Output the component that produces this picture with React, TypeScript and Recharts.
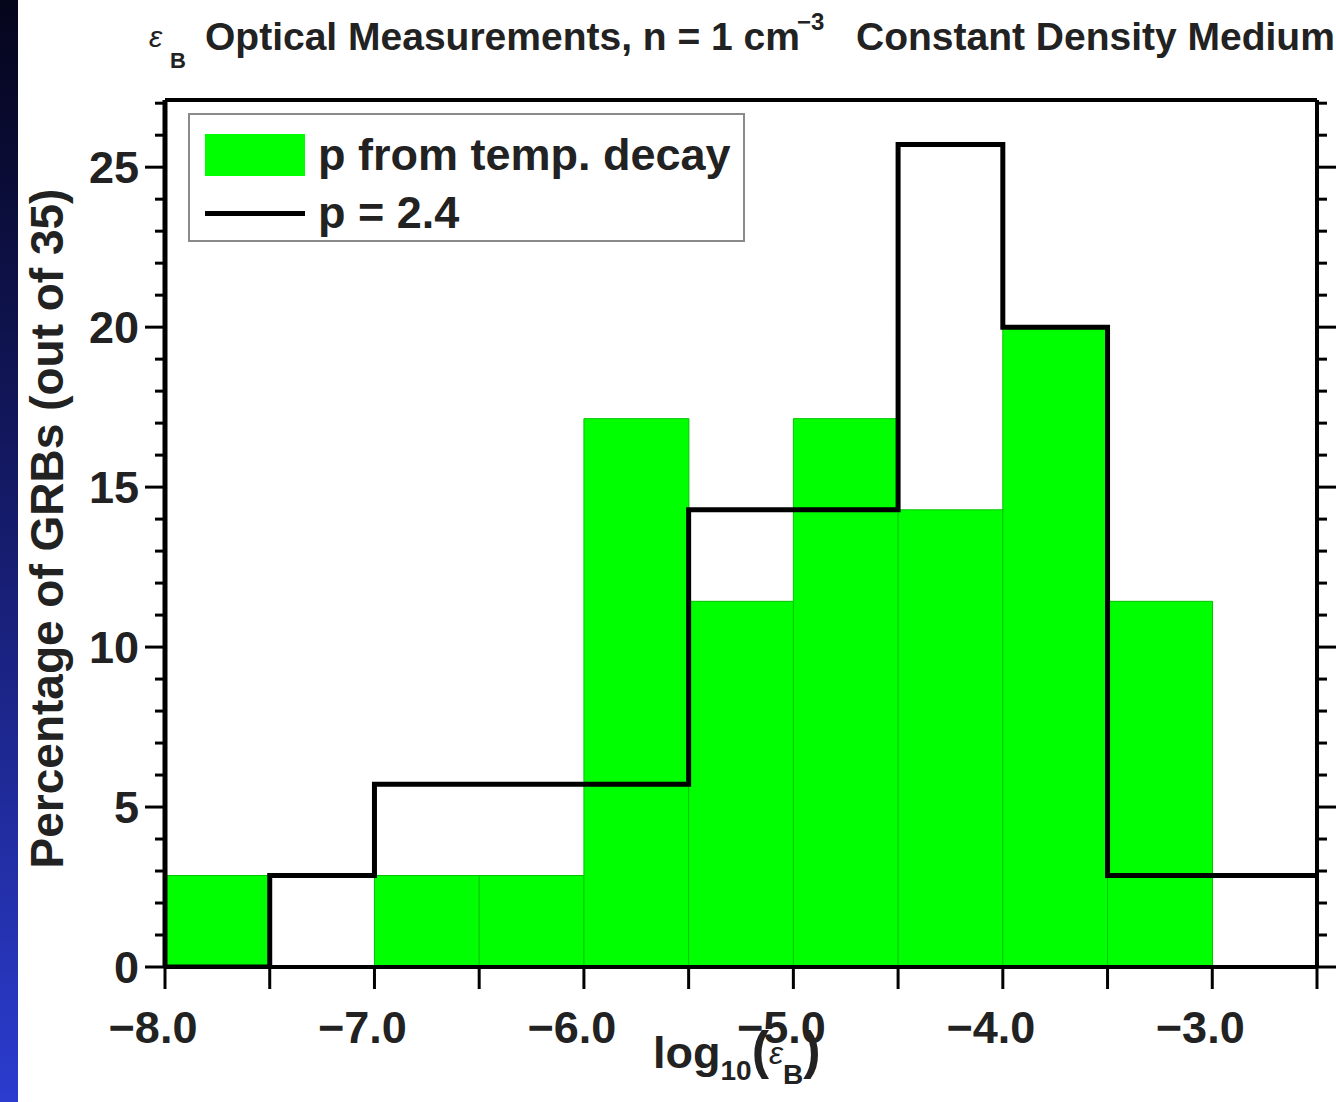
import React from "react";
import { ComposedChart, Bar, Line, XAxis, YAxis, Legend } from "recharts";

// histogram bins of log10(eps_B), width 0.5
const BIN_EDGES = [-8.0, -7.5, -7.0, -6.5, -6.0, -5.5, -5.0, -4.5, -4.0, -3.5, -3.0, -2.5];
// percentage of GRBs (out of 35) per bin
const TEMP_DECAY_PCT = [2.86, 0, 2.86, 2.86, 17.14, 11.43, 17.14, 14.29, 20.0, 11.43, 0];
const P24_PCT = [0, 2.86, 5.71, 5.71, 5.71, 14.29, 14.29, 25.71, 20.0, 2.86, 2.86];

const X_TICKS = [-8.0, -7.5, -7.0, -6.5, -6.0, -5.5, -5.0, -4.5, -4.0, -3.5, -3.0, -2.5];
const Y_TICKS = [0, 1, 2, 3, 4, 5, 6, 7, 8, 9, 10, 11, 12, 13, 14, 15, 16, 17, 18, 19, 20, 21, 22, 23, 24, 25, 26, 27];
const Y_MAJOR = [0, 5, 10, 15, 20, 25];

const LEGEND_ITEMS = [
  { key: "decay", label: "p from temp. decay", kind: "rect" },
  { key: "p24", label: "p = 2.4", kind: "line" },
];

const GREEN = "#00ff00";
const FONT = "'Liberation Sans', Arial, Helvetica, sans-serif";

const binRows = TEMP_DECAY_PCT.map((v, i) => ({ bin: String(BIN_EDGES[i]), green: v }));
// step line needs the closing edge, so repeat the last value there
const stepRows = BIN_EDGES.map((x, i) => ({ x, black: P24_PCT[Math.min(i, P24_PCT.length - 1)] }));

const fmtX = (v: number) => (v < 0 ? "\u2212" : "") + Math.abs(v).toFixed(1);

function XTick({ x, y, payload, side }: any) {
  const v = payload.value as number;
  const dir = side === "top" ? -1 : 1;
  return (
    <g>
      <line x1={x} y1={y} x2={x} y2={y + dir * 22} stroke="#000" strokeWidth={3} />
      {side === "bottom" && Number.isInteger(v) && (
        <text
          x={x - 12}
          y={y + 76}
          textAnchor="middle"
          fontFamily={FONT}
          fontWeight="bold"
          fontSize={45}
          fill="#222"
        >
          {fmtX(v)}
        </text>
      )}
    </g>
  );
}

function YTick({ x, y, payload, side }: any) {
  const v = payload.value as number;
  const major = Y_MAJOR.includes(v);
  const dir = side === "left" ? -1 : 1;
  return (
    <g>
      <line x1={x} y1={y} x2={x + dir * (major ? 20 : 10)} y2={y} stroke="#000" strokeWidth={3} />
      {side === "left" && major && (
        <text
          x={x - 26}
          y={y}
          dy="0.36em"
          textAnchor="end"
          fontFamily={FONT}
          fontWeight="bold"
          fontSize={45}
          fill="#222"
        >
          {v}
        </text>
      )}
    </g>
  );
}

function XTitle({ viewBox }: any) {
  const cx = (viewBox?.x ?? 165) + (viewBox?.width ?? 1152) / 2;
  const top = viewBox?.y ?? 967;
  const x0 = cx - 88;
  return (
    <text x={x0} y={top + 101} fontFamily={FONT} fontWeight="bold" fontSize={45} fill="#222">
      <tspan>log</tspan>
      <tspan fontSize={28} dy={12}>10</tspan>
      <tspan dy={-12} fontSize={52}>(</tspan>
      <tspan fontStyle="italic" fontWeight="normal" fontSize={32} dy={-4}>{"\u03b5"}</tspan>
      <tspan fontSize={28} dy={20}>B</tspan>
      <tspan fontSize={52} dy={-16}>)</tspan>
    </text>
  );
}

function YTitle({ viewBox }: any) {
  const cx = (viewBox?.x ?? 0) + 46;
  const cy = (viewBox?.y ?? 100) + (viewBox?.height ?? 867) / 2 - 5;
  return (
    <text
      x={cx}
      y={cy}
      transform={`rotate(-90 ${cx} ${cy})`}
      textAnchor="middle"
      dy="0.36em"
      fontFamily={FONT}
      fontWeight="bold"
      fontSize={46}
      fill="#222"
    >
      Percentage of GRBs (out of 35)
    </text>
  );
}

function LegendBox() {
  return (
    <div
      style={{
        width: 557,
        height: 129,
        boxSizing: "border-box",
        border: "2px solid #8a8a8a",
        background: "#fff",
        position: "relative",
        fontFamily: FONT,
        fontWeight: 700,
        fontSize: 45,
        color: "#222",
      }}
    >
      {LEGEND_ITEMS.map((item, i) => (
        <div
          key={item.key}
          style={{
            position: "absolute",
            left: 15,
            top: 18 + i * 58,
            height: 44,
            display: "flex",
            alignItems: "center",
            whiteSpace: "nowrap",
          }}
        >
          {item.kind === "rect" ? (
            <div style={{ width: 100, height: 42, background: GREEN }} />
          ) : (
            <div style={{ width: 100, height: 5, background: "#000" }} />
          )}
          <span style={{ marginLeft: 13, lineHeight: "44px" }}>{item.label}</span>
        </div>
      ))}
    </div>
  );
}

export default function App() {
  return (
    <div
      style={{
        position: "absolute",
        left: 0,
        top: 0,
        width: 1336,
        height: 1102,
        overflow: "hidden",
        background: "#fff",
      }}
    >
      <ComposedChart
        width={1336}
        height={1102}
        data={binRows}
        margin={{ top: 0, right: 0, bottom: 0, left: 0 }}
        barCategoryGap={0}
        barGap={0}
      >
        <XAxis xAxisId="bins" dataKey="bin" type="category" hide height={0} />
        <XAxis
          xAxisId="val"
          dataKey="x"
          type="number"
          domain={[-8, -2.5]}
          allowDataOverflow
          ticks={X_TICKS}
          interval={0}
          height={135}
          tickSize={0}
          tickMargin={0}
          tickLine={false}
          tick={<XTick side="bottom" />}
          axisLine={{ stroke: "#000", strokeWidth: 4 }}
          label={<XTitle />}
        />
        <XAxis
          xAxisId="top"
          orientation="top"
          type="number"
          domain={[-8, -2.5]}
          allowDataOverflow
          ticks={X_TICKS}
          interval={0}
          height={100}
          tickSize={0}
          tickMargin={0}
          tickLine={false}
          tick={<XTick side="top" />}
          axisLine={{ stroke: "#000", strokeWidth: 4 }}
        />
        <YAxis
          yAxisId="left"
          type="number"
          domain={[0, 27.1]}
          allowDataOverflow
          ticks={Y_TICKS}
          interval={0}
          width={165}
          tickSize={0}
          tickMargin={0}
          tickLine={false}
          tick={<YTick side="left" />}
          axisLine={{ stroke: "#000", strokeWidth: 5 }}
          label={<YTitle />}
        />
        <YAxis
          yAxisId="right"
          orientation="right"
          type="number"
          domain={[0, 27.1]}
          allowDataOverflow
          ticks={Y_TICKS}
          interval={0}
          width={19}
          tickSize={0}
          tickMargin={0}
          tickLine={false}
          tick={<YTick side="right" />}
          axisLine={{ stroke: "#000", strokeWidth: 4 }}
        />
        <Bar
          xAxisId="bins"
          yAxisId="left"
          dataKey="green"
          fill={GREEN}
          stroke="#00c400"
          strokeWidth={1}
          isAnimationActive={false}
        />
        <Line
          xAxisId="val"
          yAxisId="left"
          data={stepRows}
          dataKey="black"
          type="stepAfter"
          stroke="#000"
          strokeWidth={5}
          dot={false}
          activeDot={false}
          isAnimationActive={false}
        />
        <Legend
          layout="vertical"
          align="center"
          verticalAlign="middle"
          content={<LegendBox />}
          wrapperStyle={{ left: 188, top: 113, width: 557, height: 129 }}
        />
      </ComposedChart>

      <svg
        width={1336}
        height={100}
        style={{ position: "absolute", left: 0, top: 0, pointerEvents: "none" }}
      >
        <text fontFamily={FONT} fontWeight="bold" fontSize={39} fill="#222">
          <tspan x={149} y={47} fontStyle="italic" fontWeight="normal" fontSize={30}>
            {"\u03b5"}
          </tspan>
          <tspan x={170} y={68} fontSize={22}>B</tspan>
          <tspan x={205} y={50}>Optical Measurements, n = 1 cm</tspan>
          <tspan x={797} y={30} fontSize={24}>{"\u22123"}</tspan>
          <tspan x={856} y={50}>Constant Density Medium</tspan>
        </text>
      </svg>

      <div
        style={{
          position: "absolute",
          left: 0,
          top: 0,
          width: 18,
          height: 1102,
          background: "linear-gradient(to bottom, #05051c 0%, #141a66 45%, #2b3ccf 100%)",
        }}
      />
    </div>
  );
}
